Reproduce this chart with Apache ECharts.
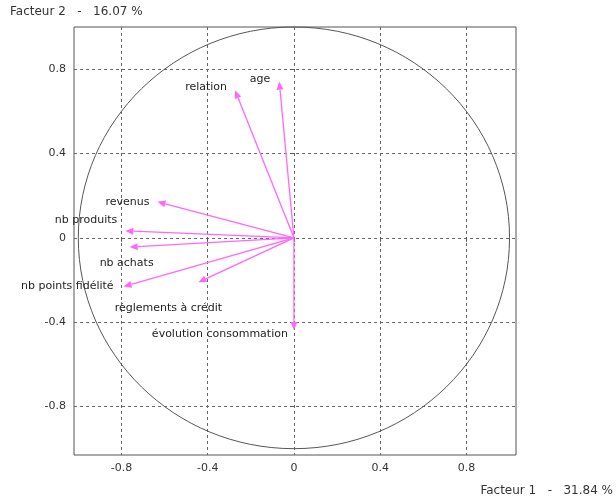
<!DOCTYPE html>
<html>
<head>
<meta charset="utf-8">
<script src="https://cdn.jsdelivr.net/npm/echarts@6/dist/echarts.min.js"></script>
<style>
  html, body { margin: 0; padding: 0; background: #fff; }
  #chart-container { width: 616px; height: 501px; }
</style>
</head>
<body>
<div id="chart-container"></div>
<script>
// correlation circle: variables projected on factors 1 and 2
var variables = ["age", "relation", "revenus", "nb produits", "nb achats",
  "nb points fidélité", "règlements à crédit", "évolution consommation"];
var factor1 = [-0.068, -0.273, -0.633, -0.782, -0.762, -0.79, -0.443, 0.0];
var factor2 = [0.741, 0.70, 0.171, 0.033, -0.044, -0.231, -0.211, -0.437];
var tickValues = [-0.8, -0.4, 0, 0.4, 0.8];

// where each label sits relative to its arrow tip (px)
var labelOffsets = [
  [-9, -2, "right"], [-8, -3, "right"], [-8, 0, "right"], [-8, -11, "right"],
  [-3, 16, "center"], [-10, 0, "right"], [-30, 26, "center"], [-6, 4, "right"]
];

var font = "DejaVu Sans";
var arrowColor = "#ff66ff";

var dom = document.getElementById("chart-container");
var myChart = echarts.init(dom, null, { renderer: "canvas" });

function axisCommon() {
  return {
    type: "value",
    axisLine: { show: false },
    axisTick: { show: true, length: 4, customValues: tickValues, lineStyle: { color: "#555" } },
    axisLabel: {
      customValues: tickValues,
      color: "#333",
      fontFamily: font,
      fontSize: 11,
      margin: 8,
    },
    splitLine: {
      show: true,
      lineStyle: { color: "#666", type: [3, 3], width: 1 },
    },
  };
}

var xAxis = axisCommon();
xAxis.min = -1.02;
xAxis.max = 1.03;
var yAxis = axisCommon();
yAxis.min = -1.03;
yAxis.max = 1.0;

var option = {
  animation: false,
  grid: {
    left: 74, right: 100, top: 27, bottom: 46,
    show: true, borderColor: "#555", borderWidth: 1,
  },
  xAxis: xAxis,
  yAxis: yAxis,
  graphic: [
    {
      type: "text", left: 10, top: 6,
      style: { text: "Facteur 2   -   16.07 %", fill: "#333", font: "12px '" + font + "'" },
    },
    {
      type: "text", right: 3, top: 485,
      style: { text: "Facteur 1   -   31.84 %", fill: "#333", font: "12px '" + font + "'" },
    },
  ],
  series: [
    {
      // unit circle
      type: "custom",
      silent: true,
      data: [[0, 0]],
      renderItem: function (params, api) {
        var c = api.coord([0, 0]);
        var s = api.size([1, 1]);
        return {
          type: "ellipse",
          shape: { cx: c[0], cy: c[1], rx: s[0], ry: s[1] },
          style: { fill: null, stroke: "#555", lineWidth: 1 },
        };
      },
    },
    {
      type: "custom",
      data: factor1.map(function (x, i) { return [x, factor2[i]]; }),
      renderItem: function (params, api) {
        var i = params.dataIndex;
        var p0 = api.coord([0, 0]);
        var p1 = api.coord([api.value(0), api.value(1)]);
        var dx = p1[0] - p0[0], dy = p1[1] - p0[1];
        var len = Math.sqrt(dx * dx + dy * dy) || 1;
        var ux = dx / len, uy = dy / len;
        var hl = 8, hw = 3.5;
        var bx = p1[0] - ux * hl, by = p1[1] - uy * hl;
        var off = labelOffsets[i];
        return {
          type: "group",
          children: [
            {
              type: "line",
              shape: { x1: p0[0], y1: p0[1], x2: bx, y2: by },
              style: { stroke: arrowColor, lineWidth: 1.3 },
            },
            {
              type: "polygon",
              shape: { points: [[p1[0], p1[1]], [bx - uy * hw, by + ux * hw], [bx + uy * hw, by - ux * hw]] },
              style: { fill: arrowColor },
            },
            {
              type: "text",
              x: p1[0] + off[0],
              y: p1[1] + off[1],
              style: {
                text: variables[i],
                fill: "#222",
                fontFamily: font,
                fontSize: 11,
                align: off[2],
                verticalAlign: "middle",
              },
            },
          ],
        };
      },
    },
  ],
};

myChart.setOption(option);
window.addEventListener("resize", myChart.resize);
</script>
</body>
</html>
